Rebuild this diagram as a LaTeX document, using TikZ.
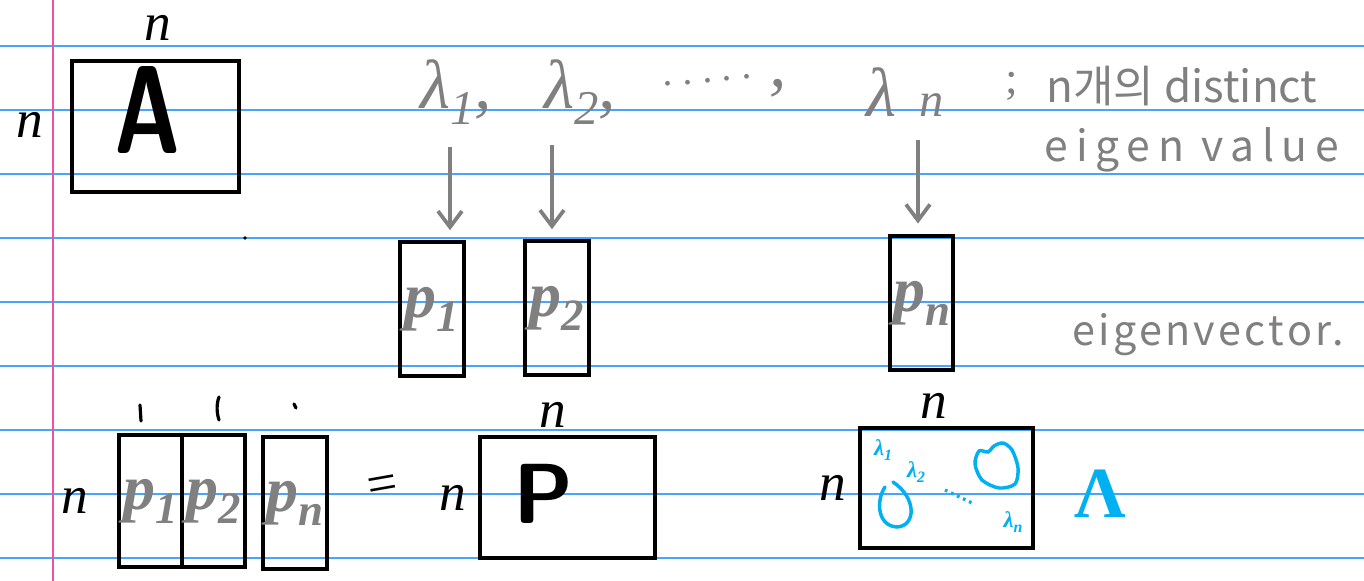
\documentclass[tikz,border=0pt]{standalone}
\usepackage{fontspec}
\newfontfamily\kr{Noto Sans CJK KR}
\newfontfamily\krwide[LetterSpace=18]{Noto Sans CJK KR}
\newfontfamily\krmid[LetterSpace=8]{Noto Sans CJK KR}
\newfontfamily\ser{Liberation Serif}
\newcommand\lsub[1]{\raisebox{-0.22em}{\scalebox{0.7}{#1}}}
\usetikzlibrary{arrows.meta}
\definecolor{ruleblue}{RGB}{70,165,255}
\definecolor{marginpink}{RGB}{240,80,160}
\definecolor{pen}{RGB}{128,128,128}
\definecolor{hl}{RGB}{0,176,240}
\tikzset{
  box/.style={draw=black,line width=2.7pt,rectangle,inner sep=0pt},
  lbl/.style={inner sep=0pt,outer sep=0pt},
  nsym/.style={lbl,anchor=base,font=\ser\itshape\fontsize{40}{40}\selectfont},
  lam/.style={lbl,text=pen,font=\ser\itshape\fontsize{52}{52}\selectfont},
  pv/.style={lbl,text=pen,font=\ser\itshape\bfseries\fontsize{48}{48}\selectfont},
  note/.style={lbl,text=pen},
  arr/.style={draw=pen,line width=2.8pt,-{Straight Barb[length=12pt,width=18pt]}},
  stroke/.style={draw=black,line width=2.4pt,line cap=round},
  hlpen/.style={draw=hl,line width=2.6pt,line cap=round},
  hltxt/.style={lbl,text=hl,font=\ser\itshape\bfseries\fontsize{17}{17}\selectfont},
}
\begin{document}
\begin{tikzpicture}[x=0.75pt,y=-0.75pt]
\useasboundingbox (0,0) rectangle (1364,581);
\fill[white] (0,0) rectangle (1364,581);
% ruled paper
\foreach \yy in {46,110,...,558} \draw[ruleblue,line width=1.4pt] (0,\yy) -- (1364,\yy);
\draw[marginpink,line width=1.6pt] (53,0) -- (53,581);

% matrix A
\node[box,minimum width=167*0.75pt,minimum height=131*0.75pt] (Abox) at (155.5,126.5) {};
\node[lbl,anchor=base,font=\fontsize{94}{94}\selectfont\sffamily\bfseries] (Alab) at (148,154) {\scalebox{0.72}[1]{A}};
\node[nsym] (nAtop) at (158,41) {n};
\node[nsym] (nAleft) at (30,138) {n};
\fill (245,238) circle (1.8);

% eigenvalues
\node[lam] (l1) at (456,92) {λ\lsub{1},};
\node[lam] (l2) at (580,92) {λ\lsub{2},};
\node[lam,font=\ser\fontsize{30}{30}\selectfont,rotate=5] (ldots) at (708,86) {·\,·\,·\,·\,·};
\node[lam] (lcomma) at (778,88) {,};
\node[lam] (ln) at (905,92) {λ\,\,\scalebox{0.7}{n}};
\node[lam,font=\ser\fontsize{34}{34}\selectfont] (lcolon) at (1012,86) {;};
\node[note,font=\kr\fontsize{33}{33}\selectfont] (kor) at (1182,86) {n개의 distinct};
\node[note,font=\krwide\fontsize{32}{32}\selectfont] (ev) at (1192,150) {eigen value};

% eigenvectors
\node[box,minimum width=64*0.75pt,minimum height=134*0.75pt] (p1) at (432,309) {};
\node[box,minimum width=64*0.75pt,minimum height=134*0.75pt] (p2) at (557,308) {};
\node[box,minimum width=63*0.75pt,minimum height=134*0.75pt] (pn) at (921.5,303) {};
\node[pv] (p1l) at (p1) {p\lsub{1}};
\node[pv] (p2l) at (p2) {p\lsub{2}};
\node[pv] (pnl) at (pn) {p\lsub{n}};
\node[note,font=\krmid\fontsize{31}{31}\selectfont] (evec) at (1208,335) {eigenvector.};

% arrows
\coordinate (a1s) at (450,147);
\coordinate (a2s) at (552,145);
\coordinate (ans) at (918,140);
\draw[arr,shorten >=7.5pt] (a1s) -- (a1s |- p1.north);
\draw[arr,shorten >=7.5pt] (a2s) -- (a2s |- p2.north);
\draw[arr,shorten >=8pt] (ans) -- (ans |- pn.north);

% bottom: columns = P
\node[nsym] (nq) at (75,513) {n};
\node[box,minimum width=63*0.75pt,minimum height=132*0.75pt] (q1) at (150.5,501) {};
\node[box,minimum width=63*0.75pt,minimum height=132*0.75pt] (q2) at (213.5,501) {};
\node[box,minimum width=64*0.75pt,minimum height=132*0.75pt] (qn) at (295,503) {};
\node[pv] (q1l) at (q1) {p\lsub{1}};
\node[pv] (q2l) at (q2) {p\lsub{2}};
\node[pv] (qnl) at (qn) {p\lsub{n}};
\draw[stroke] (140,405) -- (141,421);
\draw[stroke] (219,397) .. controls (216,405) and (217,414) .. (219,420);
\draw[stroke] (294,404) -- (296,408);
\node[lbl,font=\ser\fontsize{40}{40}\selectfont,rotate=10] (eq) at (383,489) {=};
\node[nsym] (nPl) at (453,510) {n};
\node[box,minimum width=175*0.75pt,minimum height=121*0.75pt] (Pbox) at (567.5,497.5) {};
\node[nsym] (nPt) at (553,427) {n};
\node[lbl,font=\fontsize{64}{64}\selectfont\sffamily\bfseries] (Plab) at (543,494) {P};

% Lambda matrix
\node[box,minimum width=173*0.75pt,minimum height=120*0.75pt] (Lbox) at (946.5,488) {};
\node[nsym] (nLt) at (934,418) {n};
\node[nsym] (nLl) at (833,500) {n};
\node[hltxt] (h1) at (883,450) {λ\lsub{1}};
\node[hltxt] (h2) at (916,472) {λ\lsub{2}};
\node[hltxt] (hn) at (1013,522) {λ\lsub{n}};
\draw[hlpen] (885,487) .. controls (876,500) and (877,526) .. (897,527) .. controls (916,526) and (917,498) .. (893,482);
\draw[hlpen] plot[smooth cycle] coordinates {(988,452) (994,446) (1003,443) (1012,450) (1018,468) (1015,484) (999,488) (982,480) (975,464) (979,451)};
\draw[hl,line width=2.4pt,dash pattern=on 2pt off 3pt] (945,490) -- (972,503);
\node[lbl,text=hl,font=\ser\bfseries\fontsize{54}{54}\selectfont] (Lam) at (1100,494) {Λ};
\end{tikzpicture}
\end{document}
